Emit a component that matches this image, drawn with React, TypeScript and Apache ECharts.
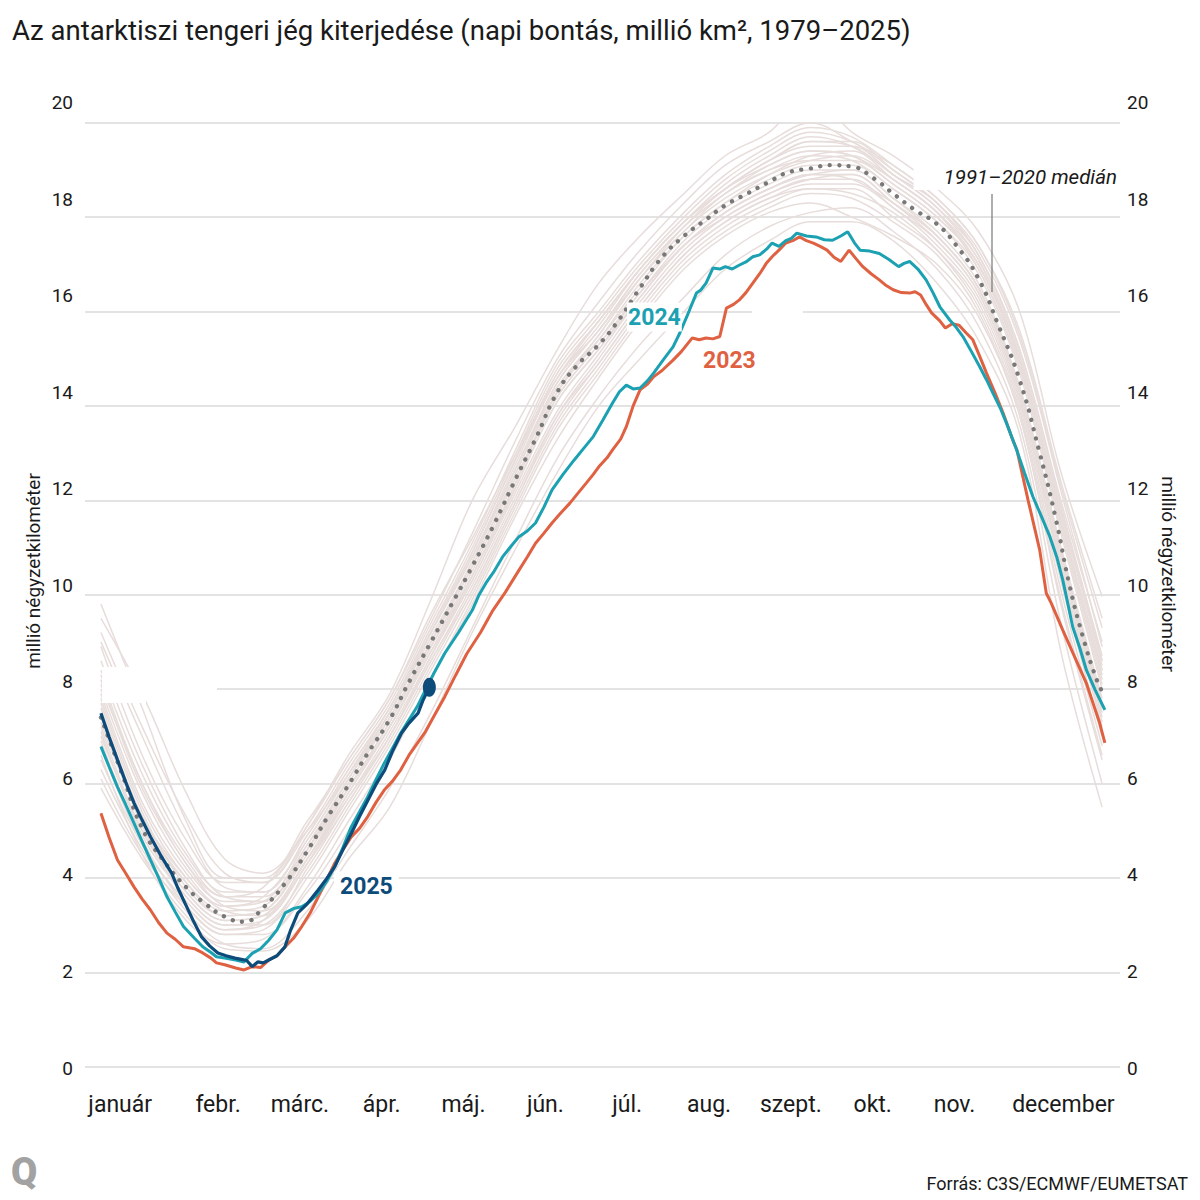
import React, { useEffect, useRef } from "react";
import * as echarts from "echarts";

const TITLE = "Az antarktiszi tengeri jég kiterjedése (napi bontás, millió km², 1979–2025)";
const SOURCE = "Forrás: C3S/ECMWF/EUMETSAT";
const AXIS_NAME = "millió négyzetkilométer";
const MONTHS = ["január", "febr.", "márc.", "ápr.", "máj.", "jún.", "júl.", "aug.", "szept.", "okt.", "nov.", "december"];
const Y_TICKS_MIN = 0;
const Y_TICKS_MAX = 20;
const Y_TICK_STEP = 2;

// day of year (0 = jan. 1) for the background years' sample points
const BG_DAYS = [0, 15, 31, 45, 59, 75, 90, 105, 120, 135, 151, 166, 181, 196, 212, 227, 243, 258, 273, 288, 304, 319, 334, 349, 364];

// earlier years (1979–2022), million km², read at BG_DAYS
const BG_LINES: number[][] = [
  [9.8, 7.6, 5.2, 4.0, 4.0, 5.2, 6.5, 7.8, 9.6, 11.2, 13.0, 14.6, 15.7, 16.9, 17.9, 18.6, 19.2, 19.6, 19.5, 18.9, 18.3, 17.2, 15.2, 12.0, 9.0],
  [9.5, 7.9, 5.8, 4.4, 4.1, 5.0, 6.2, 7.5, 9.2, 10.8, 12.7, 14.5, 15.6, 16.8, 17.8, 18.5, 19.1, 19.4, 19.3, 18.7, 18.0, 17.0, 15.0, 11.6, 8.4],
  [8.1, 6.0, 4.3, 3.6, 3.8, 5.1, 6.6, 7.9, 9.9, 12.0, 13.6, 15.2, 16.6, 17.6, 18.5, 19.3, 19.8, 20.6, 19.8, 19.3, 18.6, 17.7, 16.0, 12.6, 9.96],
  [8.4, 6.2, 4.5, 3.7, 3.7, 4.9, 6.3, 7.6, 9.3, 11.0, 13.0, 14.8, 15.9, 17.0, 18.0, 18.8, 19.4, 19.8, 19.6, 19.0, 18.3, 17.3, 15.4, 12.2, 8.9],
  [7.8, 5.5, 4.0, 3.4, 3.6, 4.8, 6.2, 7.5, 9.1, 10.7, 12.7, 14.4, 15.5, 16.7, 17.7, 18.4, 18.9, 19.2, 19.3, 18.8, 18.1, 17.0, 14.9, 11.5, 8.3],
  [7.5, 5.1, 3.7, 3.1, 3.2, 4.4, 5.9, 7.3, 8.9, 10.4, 12.4, 14.2, 15.3, 16.4, 17.5, 18.2, 18.7, 19.0, 19.0, 18.4, 17.7, 16.6, 14.4, 11.0, 7.8],
  [7.1, 4.9, 3.6, 3.0, 3.1, 4.3, 5.7, 7.1, 8.7, 10.3, 12.2, 13.9, 15.1, 16.3, 17.4, 18.0, 18.5, 18.8, 18.9, 18.3, 17.5, 16.4, 14.2, 10.7, 7.4],
  [6.9, 4.8, 3.4, 2.8, 2.9, 4.0, 5.4, 6.8, 8.4, 10.0, 11.9, 13.6, 14.8, 16.0, 17.1, 17.8, 18.3, 18.6, 18.6, 18.0, 17.3, 16.2, 14.0, 10.3, 7.0],
  [6.3, 4.6, 3.3, 2.6, 2.5, 3.3, 4.6, 5.9, 7.5, 9.3, 11.2, 12.9, 14.2, 15.3, 16.3, 17.2, 17.8, 18.1, 18.2, 17.7, 16.9, 15.7, 13.6, 9.4, 6.0],
  [5.9, 4.4, 3.2, 2.5, 2.45, 3.1, 4.4, 5.5, 7.3, 9.2, 11.0, 12.6, 14.0, 15.0, 16.0, 16.9, 17.5, 17.9, 17.9, 17.5, 16.6, 15.4, 13.4, 8.8, 5.5],
  [6.6, 4.5, 3.1, 2.6, 2.7, 3.8, 5.2, 6.6, 8.2, 9.8, 11.7, 13.3, 14.6, 15.8, 16.9, 17.6, 18.1, 18.3, 18.0, 17.6, 17.0, 15.9, 13.8, 9.8, 6.5],
  [8.0, 5.8, 4.2, 3.5, 3.5, 4.7, 6.1, 7.4, 9.0, 10.6, 12.6, 14.3, 15.4, 16.6, 17.6, 18.3, 18.9, 19.3, 19.4, 18.8, 18.1, 16.9, 14.8, 11.8, 8.6],
  [7.3, 5.2, 3.9, 3.3, 3.4, 4.6, 6.0, 7.4, 9.0, 10.6, 12.6, 14.4, 15.4, 16.5, 17.6, 18.3, 18.8, 19.1, 19.1, 18.6, 17.9, 16.8, 14.7, 11.3, 8.0],
  [7.7, 5.4, 3.8, 3.2, 3.3, 4.5, 5.9, 7.2, 8.8, 10.4, 12.3, 14.1, 15.2, 16.3, 17.4, 18.1, 18.6, 18.9, 19.0, 18.4, 17.6, 16.5, 14.3, 10.9, 7.6],
  [8.9, 6.6, 4.8, 3.9, 3.9, 5.0, 6.4, 7.7, 9.4, 11.1, 13.1, 14.9, 16.0, 17.1, 18.1, 18.9, 19.5, 19.9, 19.7, 19.1, 18.4, 17.4, 15.5, 12.3, 9.3],
  [7.6, 5.3, 3.9, 3.2, 3.3, 4.6, 6.1, 7.5, 9.2, 10.8, 12.8, 14.6, 15.6, 16.8, 17.8, 18.5, 19.0, 19.3, 19.2, 18.6, 17.9, 16.9, 14.8, 11.4, 8.1],
  [7.0, 5.0, 3.6, 3.0, 3.0, 4.2, 5.6, 7.0, 8.6, 10.2, 12.1, 13.8, 14.9, 16.1, 17.2, 17.9, 18.4, 18.7, 18.7, 18.2, 17.4, 16.3, 14.1, 10.5, 7.2],
  [8.3, 6.0, 4.4, 3.6, 3.6, 4.8, 6.2, 7.6, 9.3, 10.9, 12.9, 14.6, 15.8, 16.9, 17.9, 18.6, 19.2, 19.5, 19.5, 18.9, 18.2, 17.2, 15.2, 11.9, 8.7],
  [6.8, 4.7, 3.5, 2.9, 3.0, 4.1, 5.5, 6.9, 8.5, 10.1, 12.0, 13.7, 14.9, 16.1, 17.2, 17.9, 18.4, 18.6, 18.5, 18.1, 17.3, 16.1, 13.9, 10.1, 6.8],
  [9.0, 7.0, 5.0, 3.8, 3.7, 4.9, 6.3, 7.6, 9.2, 10.9, 12.9, 14.7, 15.8, 16.9, 17.9, 18.7, 19.3, 19.7, 19.5, 18.9, 18.2, 17.1, 15.0, 11.7, 8.6],
  [7.9, 5.6, 4.1, 3.4, 3.5, 4.7, 6.1, 7.5, 9.2, 10.9, 12.9, 14.7, 15.8, 16.9, 17.9, 18.6, 19.1, 19.4, 19.3, 18.8, 18.1, 17.1, 15.0, 11.6, 8.4],
  [7.2, 5.0, 3.7, 3.1, 3.2, 4.4, 5.8, 7.2, 8.8, 10.3, 12.3, 14.1, 15.2, 16.4, 17.4, 18.1, 18.6, 18.9, 18.9, 18.3, 17.6, 16.5, 14.4, 11.0, 7.7],
  [8.6, 6.4, 4.6, 3.6, 3.5, 4.6, 5.9, 7.3, 9.0, 10.7, 12.7, 14.5, 15.6, 16.7, 17.7, 18.5, 19.0, 19.2, 19.2, 18.7, 18.0, 17.0, 14.9, 11.5, 8.2],
  [6.5, 4.7, 3.5, 2.9, 3.1, 4.3, 5.8, 7.2, 8.9, 10.5, 12.5, 14.2, 15.3, 16.4, 17.4, 18.1, 18.6, 18.9, 18.8, 18.3, 17.6, 16.5, 14.3, 10.8, 7.5],
  [7.4, 5.3, 4.0, 3.3, 3.2, 4.3, 5.6, 7.0, 8.7, 10.4, 12.4, 14.3, 15.5, 16.7, 17.8, 18.6, 19.2, 19.6, 19.6, 19.0, 18.3, 17.2, 15.1, 11.8, 8.5],
  [8.2, 5.9, 4.3, 3.4, 3.3, 4.4, 5.7, 7.0, 8.6, 10.1, 12.0, 13.8, 15.0, 16.2, 17.3, 18.0, 18.5, 18.8, 18.8, 18.2, 17.5, 16.4, 14.2, 10.6, 7.3],
  [6.1, 4.5, 3.4, 2.8, 2.8, 3.7, 5.0, 6.5, 8.2, 9.9, 11.8, 13.5, 14.7, 15.9, 17.0, 17.7, 18.2, 18.5, 18.4, 17.9, 17.2, 16.0, 13.8, 9.9, 6.6],
  [9.2, 7.2, 5.3, 4.1, 3.9, 5.1, 6.5, 7.8, 9.5, 11.3, 13.3, 15.0, 16.2, 17.3, 18.3, 19.1, 19.6, 20.0, 19.6, 19.1, 18.4, 17.4, 15.6, 12.4, 9.5],
];

// 1991–2020 median: [day of year, million km²]
const MEDIAN: [number, number][] = [
  [0, 7.4], [8, 6.15], [15, 5.05], [23, 4.35], [31, 3.8], [38, 3.45], [45, 3.18], [52, 3.07], [59, 3.37],
  [67, 3.89], [75, 4.57], [82, 5.25], [90, 5.97], [97, 6.64], [105, 7.36], [112, 8.15], [120, 9.0], [128, 9.85],
  [135, 10.6], [143, 11.5], [151, 12.48], [158, 13.3], [166, 14.3], [173, 14.85], [181, 15.3], [188, 15.8],
  [196, 16.5], [204, 17.15], [212, 17.6], [220, 17.95], [227, 18.25], [235, 18.5], [243, 18.75], [250, 18.95],
  [258, 19.03], [265, 19.1], [273, 19.07], [281, 18.82], [288, 18.5], [296, 18.15], [304, 17.85], [311, 17.4],
  [319, 16.7], [326, 15.75], [334, 14.55], [341, 13.07], [347, 11.65], [352, 10.24], [357, 9.11], [362, 8.2], [364, 7.95],
];

const Y2023: [number, number][] = [
  [0, 5.37], [3, 4.85], [6, 4.38], [9, 4.1], [12, 3.81], [15, 3.55], [18, 3.32], [21, 3.05], [24, 2.83], [27, 2.7],
  [30, 2.54], [34, 2.5], [37, 2.41], [40, 2.3], [42, 2.2], [45, 2.16], [49, 2.09], [52, 2.05], [55, 2.12], [58, 2.1],
  [61, 2.26], [64, 2.35], [67, 2.54], [70, 2.72], [73, 2.97], [76, 3.25], [79, 3.6], [82, 3.95], [85, 4.31], [88, 4.6],
  [91, 4.87], [94, 5.05], [97, 5.3], [100, 5.6], [103, 5.86], [106, 6.05], [109, 6.29], [112, 6.6], [115, 6.85],
  [118, 7.1], [121, 7.42], [125, 7.84], [129, 8.3], [133, 8.75], [138, 9.2], [142.5, 9.67], [147, 10.05],
  [152, 10.52], [155, 10.8], [158, 11.09], [161, 11.3], [164, 11.52], [167, 11.72], [170.5, 11.94], [173, 12.12],
  [176.5, 12.37], [179, 12.55], [181, 12.71], [184, 12.9], [186, 13.07], [189, 13.3], [191, 13.56], [193.5, 14.0],
  [196, 14.34], [198.5, 14.45], [201, 14.62], [204, 14.75], [208, 14.97], [211, 15.15], [215, 15.44], [217.5, 15.4],
  [220, 15.44], [222.5, 15.42], [225, 15.47], [227.4, 16.07], [230, 16.15], [232, 16.24], [234.5, 16.4], [237, 16.6],
  [239.5, 16.8], [242, 17.03], [244, 17.16], [246.5, 17.3], [249, 17.45], [251.5, 17.5], [254, 17.58], [256.5, 17.5],
  [259, 17.45], [261.5, 17.38], [264, 17.3], [266.5, 17.15], [269, 17.06], [272, 17.3], [274.5, 17.12], [277, 16.95],
  [280, 16.8], [283, 16.67], [285.5, 16.55], [288, 16.46], [291, 16.4], [294, 16.39], [296, 16.42], [298, 16.35],
  [300, 16.15], [302, 15.97], [305, 15.8], [307, 15.65], [309.5, 15.74], [312, 15.71], [314.5, 15.55], [317, 15.4],
  [319.5, 15.05], [322, 14.69], [325, 14.28], [328, 13.85], [331.5, 13.28], [333, 13.07], [337.1, 12.0],
  [341.3, 10.95], [343.7, 10.03], [345.5, 9.82], [349.7, 9.25], [353.4, 8.76], [358.3, 8.12], [363.1, 7.28], [365, 6.86],
];

const Y2024: [number, number][] = [
  [0, 6.78], [3, 6.35], [6, 5.93], [9, 5.55], [12, 5.16], [15, 4.77], [18, 4.38], [21, 4.0], [24, 3.6], [27, 3.28],
  [30, 2.97], [34, 2.72], [37, 2.54], [40, 2.42], [42, 2.33], [45, 2.3], [49, 2.26], [52, 2.22], [55, 2.4], [58, 2.5],
  [61, 2.68], [64, 2.9], [67, 3.26], [70, 3.35], [73, 3.39], [76, 3.5], [79, 3.67], [82, 3.92], [85, 4.24], [88, 4.65],
  [91, 5.08], [94, 5.4], [97, 5.72], [100, 6.08], [103, 6.43], [106, 6.75], [109, 7.07], [112, 7.35], [115, 7.63],
  [118, 7.98], [121, 8.33], [125, 8.76], [130, 9.2], [135, 9.67], [137.5, 10.0], [140, 10.25], [143, 10.5],
  [146, 10.8], [149, 11.02], [152, 11.23], [155, 11.35], [158, 11.52], [161, 11.85], [164, 12.22], [168, 12.55],
  [172, 12.85], [175.5, 13.1], [179, 13.35], [182.5, 13.7], [186, 14.06], [188.5, 14.3], [191, 14.44], [193.5, 14.36],
  [196, 14.38], [198.5, 14.52], [201, 14.7], [204.5, 14.98], [208, 15.25], [210.5, 15.55], [213, 15.89],
  [216.5, 16.39], [218, 16.45], [220, 16.6], [222.5, 16.92], [225, 16.9], [227, 16.95], [229.5, 16.9], [232, 16.98],
  [234.5, 17.05], [237, 17.16], [239.5, 17.2], [242, 17.32], [244, 17.45], [246.5, 17.38], [249, 17.5], [251, 17.55],
  [253, 17.66], [256.5, 17.6], [260, 17.58], [263, 17.52], [266, 17.51], [269, 17.6], [271.5, 17.69], [274, 17.45],
  [276, 17.3], [279.5, 17.28], [283, 17.23], [286.5, 17.1], [290, 16.95], [292, 17.02], [294, 17.06], [297, 16.9],
  [300, 16.67], [302.5, 16.4], [305, 16.1], [308.6, 15.82], [311, 15.66], [313.4, 15.47], [316.5, 15.15],
  [319.5, 14.83], [322, 14.55], [324.3, 14.27], [327, 13.95], [329.2, 13.64], [332.9, 13.07], [335.8, 12.58],
  [338.8, 12.08], [342, 11.65], [345, 11.23], [347.5, 10.8], [349.7, 10.31], [351.5, 9.82], [353.3, 9.32],
  [356, 8.85], [358.3, 8.4], [361.5, 7.98], [365, 7.56],
];

const Y2025: [number, number][] = [
  [0, 7.49], [3, 6.98], [6, 6.5], [9, 6.03], [12, 5.59], [15, 5.22], [18, 4.87], [22, 4.45], [25.7, 4.1], [28, 3.78],
  [30.5, 3.47], [33.5, 3.1], [36.6, 2.75], [39.5, 2.56], [42.5, 2.41], [45.5, 2.35], [48.7, 2.3], [51.5, 2.27],
  [53, 2.25], [55, 2.12], [57, 2.22], [59, 2.2], [61, 2.26], [64, 2.35], [66.9, 2.54], [69, 2.9], [71.6, 3.26],
  [75, 3.45], [78.9, 3.74], [82, 3.98], [85, 4.24], [88, 4.6], [91.1, 4.95], [94, 5.3], [97.1, 5.65], [100, 5.98],
  [103.2, 6.29], [106, 6.68], [109.3, 7.07], [112, 7.28], [115.3, 7.49], [117, 7.75], [119.4, 8.04],
];

const C_BG = "#e7dddb";
const C_MEDIAN = "#787878";
const C_2023 = "#df6141";
const C_2024 = "#1ba1b1";
const C_2025 = "#0d4b7a";
const C_TEXT = "#1a1a1a";
const FONT = "Roboto";

export default function App() {
  const ref = useRef<HTMLDivElement>(null);

  useEffect(() => {
    document.body.style.margin = "0";
    document.body.style.overflow = "hidden";
    if (!ref.current) return;
    const chart = echarts.init(ref.current, null, { renderer: "svg" });

    const bgSeries = BG_LINES.map((vals, i) => ({
      name: "bg" + i,
      type: "line",
      xAxisIndex: 0,
      yAxisIndex: 0,
      data: BG_DAYS.map((d, j) => [d, vals[j]]),
      symbol: "none",
      smooth: 0.35,
      silent: true,
      z: 2,
      lineStyle: { color: C_BG, width: 1.5 },
    }));

    const yLabelAxis = (position: "left" | "right", margin: number) => ({
      gridIndex: 1,
      type: "value",
      position,
      min: Y_TICKS_MIN,
      max: Y_TICKS_MAX,
      interval: Y_TICK_STEP,
      axisLine: { show: false },
      axisTick: { show: false },
      splitLine: { show: false },
      axisLabel: { fontSize: 19, color: C_TEXT, fontFamily: FONT, margin },
    });

    const textEl = (x: number, y: number, text: string, extra: any, z = 100) => ({
      type: "text",
      x,
      y,
      z,
      style: {
        text,
        fontFamily: FONT,
        fill: C_TEXT,
        verticalAlign: "middle",
        align: "left",
        ...extra,
      },
    });

    const leftName: any = textEl(33, 571, AXIS_NAME, { fontSize: 19, align: "center" });
    leftName.rotation = Math.PI / 2;
    const rightName: any = textEl(1168, 574, AXIS_NAME, { fontSize: 19, align: "center" });
    rightName.rotation = -Math.PI / 2;

    const option: any = {
      animation: false,
      backgroundColor: "#ffffff",
      textStyle: { fontFamily: FONT },
      grid: [
        { left: 85, right: 80, top: 122.7, bottom: 133.3 },
        { left: 85, right: 80, top: 102.7, bottom: 132 },
        { left: 95.3, right: 122.7, top: 102.7, bottom: 132 },
      ],
      xAxis: [
        { gridIndex: 0, type: "value", min: -5.8, max: 370.5, show: false },
        { gridIndex: 1, type: "value", min: 0, max: 1, show: false },
        {
          gridIndex: 2,
          type: "category",
          data: MONTHS,
          boundaryGap: true,
          axisLine: { show: false },
          axisTick: { show: false },
          splitLine: { show: false },
          axisLabel: {
            interval: 0,
            margin: 25,
            fontSize: 23,
            color: C_TEXT,
            fontFamily: FONT,
            formatter: (v: string) =>
              v === MONTHS[0] ? `{first|${v}}` : v === MONTHS[11] ? `{last|${v}}` : v,
            rich: {
              first: { fontSize: 23, color: C_TEXT, fontFamily: FONT, padding: [0, 32, 0, 0] },
              last: { fontSize: 23, color: C_TEXT, fontFamily: FONT, padding: [0, 0, 0, 54] },
            },
          },
        },
      ],
      yAxis: [
        {
          gridIndex: 0,
          type: "value",
          min: Y_TICKS_MIN,
          max: Y_TICKS_MAX,
          interval: Y_TICK_STEP,
          axisLine: { show: false },
          axisTick: { show: false },
          axisLabel: { show: false },
          splitLine: { show: true, lineStyle: { color: "#e3e3e3", width: 2 } },
        },
        yLabelAxis("left", 12),
        yLabelAxis("right", 7),
        { gridIndex: 2, type: "value", show: false },
      ],
      series: [
        ...bgSeries,
        {
          name: "1991–2020 medián",
          type: "line",
          data: MEDIAN,
          symbol: "none",
          smooth: true,
          z: 4,
          lineStyle: { color: C_MEDIAN, width: 4.3, type: [0.1, 9.5], cap: "round" },
        },
        {
          name: "2023",
          type: "line",
          data: Y2023,
          symbol: "none",
          z: 5,
          lineStyle: { color: C_2023, width: 3 },
        },
        {
          name: "2024",
          type: "line",
          data: Y2024,
          symbol: "none",
          z: 6,
          lineStyle: { color: C_2024, width: 3 },
        },
        {
          name: "2025",
          type: "line",
          data: Y2025,
          symbol: "none",
          z: 7,
          lineStyle: { color: C_2025, width: 3.2 },
        },
        {
          name: "2025 utolsó adat",
          type: "scatter",
          data: [Y2025[Y2025.length - 1]],
          symbol: "circle",
          symbolSize: [13, 19],
          z: 8,
          itemStyle: { color: C_2025, opacity: 1 },
        },
      ],
      graphic: [
        // gaps in gridlines / hidden label boxes
        { type: "rect", z: 1, shape: { x: 85, y: 685, width: 132, height: 8 }, style: { fill: "#ffffff" } },
        { type: "rect", z: 3, shape: { x: 102, y: 667, width: 44, height: 36 }, style: { fill: "#ffffff" } },
        { type: "rect", z: 1, shape: { x: 752, y: 307, width: 51, height: 10 }, style: { fill: "#ffffff" } },
        textEl(12, 30, TITLE, { fontSize: 27.5 }),
        leftName,
        rightName,
        textEl(1119, 177, "1991–2020 medián", {
          fontSize: 20.5,
          fontStyle: "italic",
          align: "right",
          backgroundColor: "#ffffff",
          padding: [3, 2, 3, 30],
        }),
        {
          type: "line",
          z: 100,
          shape: { x1: 992, y1: 194, x2: 992, y2: 292 },
          style: { stroke: "#777777", lineWidth: 1.2 },
        },
        textEl(627, 317, "2024", {
          fontSize: 23,
          fontWeight: "bold",
          fill: C_2024,
          backgroundColor: "#ffffff",
          padding: [3, 1, 3, 1],
        }),
        textEl(703, 360, "2023", { fontSize: 23, fontWeight: "bold", fill: C_2023 }),
        textEl(334, 886, "2025", {
          fontSize: 23,
          fontWeight: "bold",
          fill: C_2025,
          backgroundColor: "#ffffff",
          padding: [3, 6, 3, 6],
        }),
        textEl(1188, 1183, SOURCE, { fontSize: 18, align: "right" }),
        textEl(11, 1172, "Q", { fontSize: 38, fontWeight: 900, fill: "#a2a2a2" }),
      ],
    };

    chart.setOption(option);
    return () => chart.dispose();
  }, []);

  return <div ref={ref} style={{ width: 1200, height: 1200 }} />;
}
